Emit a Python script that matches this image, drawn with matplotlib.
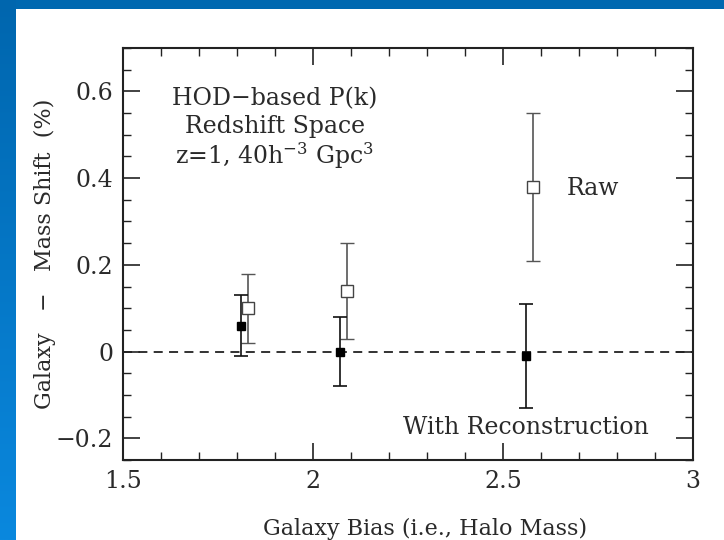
import matplotlib
matplotlib.use("Agg")
import matplotlib.pyplot as plt
import numpy as np
from matplotlib.ticker import MultipleLocator
from matplotlib.colors import LinearSegmentedColormap

plt.rcParams['font.family'] = ['DejaVu Serif']
plt.rcParams['mathtext.fontset'] = 'dejavuserif'

raw_bias = [1.83, 2.09, 2.58]
raw_shift = [0.10, 0.14, 0.38]
raw_err = [0.08, 0.11, 0.17]

rec_bias = [1.81, 2.07, 2.56]
rec_shift = [0.06, 0.00, -0.01]
rec_err = [0.07, 0.08, 0.12]

xticks = [1.5, 2, 2.5, 3]
xticklabels = ["1.5", "2", "2.5", "3"]
yticks = [-0.2, 0, 0.2, 0.4, 0.6]
yticklabels = ["\u22120.2", "0", "0.2", "0.4", "0.6"]

FS = 17
TC = '#2a2a2a'

fig = plt.figure(figsize=(7.24, 5.40), dpi=100)
fig.patch.set_facecolor('white')

# slide frame: blue band at top, gradient strip on the left
top = fig.add_axes([0, 1 - 9 / 540, 1, 9 / 540])
top.set_axis_off()
top.add_patch(plt.Rectangle((0, 0), 1, 1, color='#0068b0', transform=top.transAxes))
left = fig.add_axes([0, 0, 16 / 724, 1])
left.set_axis_off()
grad = np.linspace(0, 1, 256).reshape(-1, 1)
cmap = LinearSegmentedColormap.from_list('slide', ['#0066ae', '#0a88de'])
left.imshow(grad, aspect='auto', cmap=cmap, extent=[0, 1, 0, 1], origin='upper')

ax = fig.add_axes([123 / 724, 1 - 460 / 540, 570 / 724, 412 / 540])
ax.set_xlim(1.5, 3)
ax.set_ylim(-0.25, 0.7)

ax.axhline(0, color='#222222', lw=1.3, ls=(0, (5, 3.5)), zorder=1)

ax.errorbar(raw_bias, raw_shift, yerr=raw_err, fmt='s', mfc='white', mec='#444444',
            ms=8, mew=1.0, ecolor='#555555', elinewidth=1.2, capsize=5, capthick=1.2, zorder=3)
ax.errorbar(rec_bias, rec_shift, yerr=rec_err, fmt='s', mfc='black', mec='black',
            ms=5.5, ecolor='#111111', elinewidth=1.2, capsize=5, capthick=1.2, zorder=3)

ax.set_xticks(xticks)
ax.set_xticklabels(xticklabels)
ax.set_yticks(yticks)
ax.set_yticklabels(yticklabels)
ax.xaxis.set_minor_locator(MultipleLocator(0.1))
ax.yaxis.set_minor_locator(MultipleLocator(0.05))
ax.tick_params(which='both', direction='in', top=True, right=True, labelsize=FS,
               color='#222222', labelcolor=TC)
ax.tick_params(which='major', length=12, width=1.2, pad=7)
ax.tick_params(which='minor', length=6, width=1.0)
for s in ax.spines.values():
    s.set_linewidth(1.5)
    s.set_color('#222222')

ax.set_xlabel("Galaxy Bias (i.e., Halo Mass)", fontsize=16, color=TC)
ax.xaxis.label.set_va('center')
ax.xaxis.set_label_coords(0.53, -0.167)
ax.set_ylabel("Galaxy   \u2212   Mass Shift  (%)", fontsize=16, color=TC)
ax.yaxis.label.set_va('center')
ax.yaxis.set_label_coords(-0.137, 0.5)

ax.text(1.90, 0.582, "HOD\u2212based P(k)", ha='center', va='center', fontsize=FS, color=TC)
ax.text(1.90, 0.518, "Redshift Space", ha='center', va='center', fontsize=FS, color=TC)
ax.text(1.90, 0.452, "z=1, 40h$^{-3}$ Gpc$^{3}$", ha='center', va='center', fontsize=FS, color=TC)
ax.text(2.737, 0.377, "Raw", ha='center', va='center', fontsize=FS, color=TC)
ax.text(2.56, -0.174, "With Reconstruction", ha='center', va='center', fontsize=FS, color=TC)

fig.savefig("out.png", dpi=100)
